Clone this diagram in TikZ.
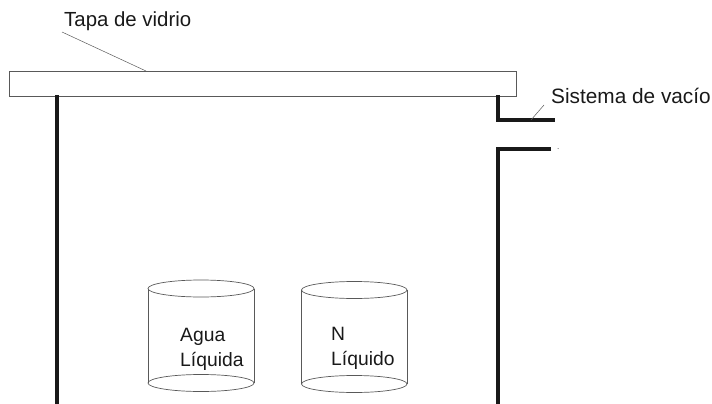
\documentclass[tikz,border=0pt]{standalone}
\usepackage{fontspec}
\setmainfont{Liberation Sans}
\tikzset{
  wall/.style={line width=3.2pt,draw=black!90,line cap=butt,line join=miter},
  thin part/.style={line width=0.7pt,draw=black!65},
  leader/.style={line width=0.5pt,draw=black!65},
  lbl/.style={inner sep=0pt,font=\fontsize{20.4pt}{24pt}\selectfont,text=black!90,anchor=base west},
  lblwide/.style={lbl,font=\fontsize{20.8pt}{24pt}\selectfont},
  lblsmall/.style={lbl,font=\fontsize{19.3pt}{24pt}\selectfont},
}
\newcommand{\cyl}[4]{% left x, right x, top y, bottom y
  \draw[thin part] ({(#1+#2)/2},#3) ellipse [x radius={(#2-#1)/2},y radius=8.5];
  \draw[thin part] ({(#1+#2)/2},#4) ellipse [x radius={(#2-#1)/2},y radius=8.5];
  \draw[thin part] (#1,#3) -- (#1,#4);
  \draw[thin part] (#2,#3) -- (#2,#4);
}
\begin{document}
\begin{tikzpicture}[x=1pt,y=-1pt]
\useasboundingbox (0,0) rectangle (712,404);
% lid
\node[draw=black!65,line width=0.7pt,minimum width=506.5pt,minimum height=25pt,inner sep=0pt,anchor=north west] (lid) at (9,71) {};
% walls
\coordinate (wlt) at (57,95);
\coordinate (wlb) at (57,404);
\coordinate (wr1) at (498,95);
\coordinate (wr2) at (498,120);
\coordinate (wr3) at (555,120);
\coordinate (wr4) at (551,149);
\coordinate (wr5) at (498,149);
\coordinate (wr6) at (498,404);
\draw[wall] (wlt) -- (wlb);
\draw[wall] (wr1) -- (wr2) -- (wr3);
\draw[wall] (wr4) -- (wr5) -- (wr6);
% cylinders
\cyl{148}{254}{288.5}{383}
\cyl{301.5}{407}{290}{384}
% labels
\node[lbl] (tapa) at (64,27) {Tapa de vidrio};
\node[lblwide] (sist) at (551,103) {Sistema de vacío};
\node[lblsmall] (agua) at (180,341) {Agua};
\node[lblsmall] (liqa) at (180,366) {Líquida};
\node[lblsmall] (n) at (331,340) {N};
\node[lblsmall] (liqn) at (331,365) {Líquido};
% leaders
\coordinate (ta) at (62,32);
\coordinate (tb) at (146,71);
\coordinate (sa) at (544,105);
\coordinate (sb) at (531,120);
\draw[leader] (ta) -- (tb);
\draw[leader] (sa) -- (sb);
% speck
\fill[black!70] (558,148.5) circle (0.5);
\end{tikzpicture}
\end{document}
